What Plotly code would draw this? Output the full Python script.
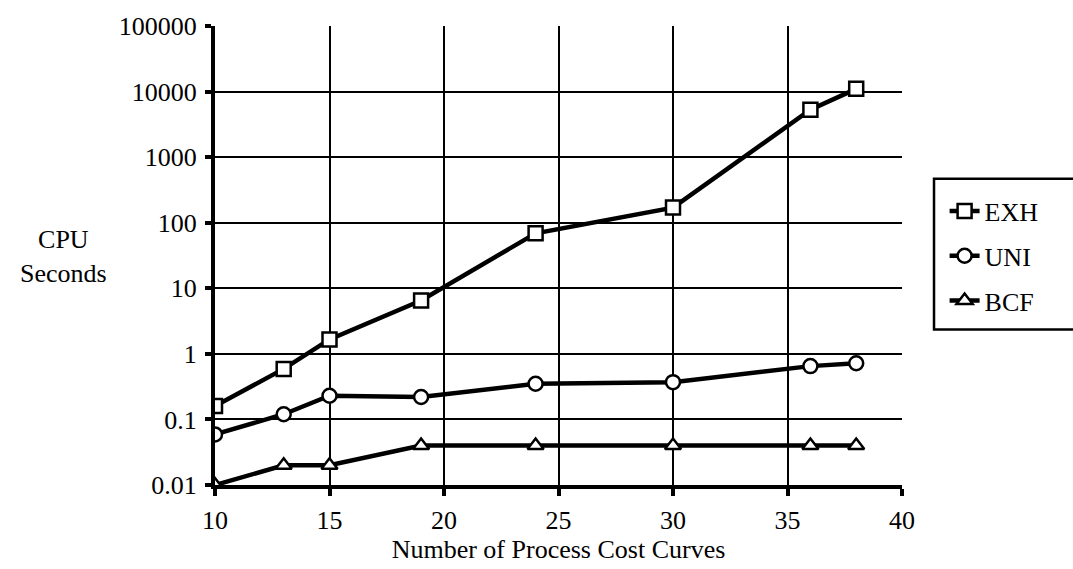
import plotly.graph_objects as go

# Number of process cost curves
curves = [10, 13, 15, 19, 24, 30, 36, 38]

# CPU seconds per method
exh = [0.16, 0.59, 1.66, 6.5, 69, 170, 5300, 11000]
uni = [0.059, 0.12, 0.23, 0.22, 0.35, 0.37, 0.65, 0.72]
bcf = [0.01, 0.02, 0.02, 0.04, 0.04, 0.04, 0.04, 0.04]

series = [
    ("EXH", exh, "square"),
    ("UNI", uni, "circle"),
    ("BCF", bcf, "triangle-up"),
]

x_ticks = [10, 15, 20, 25, 30, 35, 40]
y_ticks = [0.01, 0.1, 1, 10, 100, 1000, 10000, 100000]
y_tick_text = ["0.01", "0.1", "1", "10", "100", "1000", "10000", "100000"]

font_family = "Liberation Serif"
fs = 26

fig = go.Figure()
for name, vals, sym in series:
    fig.add_trace(go.Scatter(
        x=curves, y=vals, name=name, legendgroup=name,
        mode="lines+markers",
        line=dict(color="black", width=4.5),
        marker=dict(symbol=sym, size=14, color="white",
                    line=dict(width=2.5, color="black")),
    ))

fig.update_xaxes(
    range=[10, 40], tickvals=x_ticks, ticktext=[str(v) for v in x_ticks],
    showgrid=True, gridcolor="black", gridwidth=2,
    showline=True, linecolor="black", linewidth=4,
    ticks="outside", ticklen=7, tickwidth=4, tickcolor="black",
    zeroline=False, ticklabelstandoff=2,
    title=dict(text="Number of Process Cost Curves", standoff=2,
               font=dict(size=fs, color="black", family=font_family)),
    tickfont=dict(size=fs, color="black", family=font_family),
)
fig.update_yaxes(
    type="log", range=[-2, 5], tickvals=y_ticks, ticktext=y_tick_text,
    showgrid=True, gridcolor="black", gridwidth=2,
    showline=True, linecolor="black", linewidth=4,
    ticks="outside", ticklen=6, tickwidth=4, tickcolor="black",
    zeroline=False, ticklabelstandoff=3,
    tickfont=dict(size=fs, color="black", family=font_family),
)

fig.add_annotation(
    text="CPU<br>Seconds", xref="paper", yref="paper",
    x=-0.221, y=0.497, xanchor="center", yanchor="middle",
    showarrow=False, align="center",
    font=dict(size=fs, color="black", family=font_family),
)

# legend frame, running past the right edge of the page
fig.add_shape(
    type="rect", xref="paper", yref="paper",
    x0=1.0466, x1=1.27, y0=0.339, y1=0.667,
    line=dict(color="black", width=2.5), fillcolor="rgba(0,0,0,0)",
)

fig.update_layout(
    width=1073, height=569,
    margin=dict(l=215, r=171, t=22, b=84),
    paper_bgcolor="white", plot_bgcolor="white",
    font=dict(family=font_family, color="black"),
    showlegend=True,
    legend=dict(
        x=1.062, y=0.648, xanchor="left", yanchor="top",
        borderwidth=0, bgcolor="rgba(0,0,0,0)",
        font=dict(size=fs, color="black", family=font_family),
        tracegroupgap=8, itemwidth=30,
    ),
)

fig.write_html("out.html")
